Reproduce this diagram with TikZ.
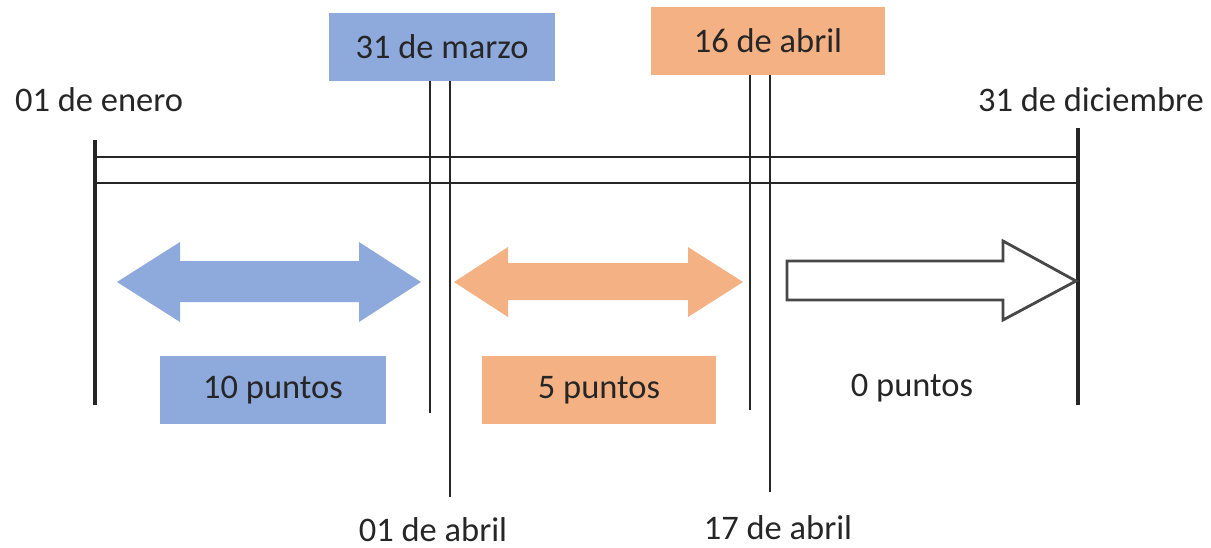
\documentclass[tikz,border=0pt]{standalone}
\usepackage{fontspec}
\setmainfont{Carlito}
\definecolor{azul}{HTML}{8EA9DB}
\definecolor{naranja}{HTML}{F4B183}
\definecolor{tinta}{HTML}{262626}

\begin{document}
\begin{tikzpicture}[x=0.01cm,y=-0.01cm,
		every node/.style={font=\fontsize{9.8}{12}\selectfont, text=tinta},
		caja/.style={inner sep=0pt, minimum height=0.67cm},
		hito/.style={line width=1.2pt, draw=tinta},
		linea/.style={line width=0.6pt, draw=tinta}]
				\useasboundingbox (0,0) rectangle (1211,548);
				% Dates at the top
				\node[caja, fill=azul, minimum width=2.25cm] (marzo) at (442,47) {31 de marzo};
				\node[caja, fill=naranja, minimum width=2.33cm] (abril) at (768,41) {16 de abril};
				\node (enero) at (99,100) {01 de enero};
				\node (diciembre) at (1091,100) {31 de diciembre};
				
				% Start and end of the year
				\coordinate (ini-top) at (95,140);
				\coordinate (ini-bot) at (95,405);
				\coordinate (fin-top) at (1078,128);
				\coordinate (fin-bot) at (1078,405);
				\draw[hito] (ini-top) -- (ini-bot);
				\draw[hito] (fin-top) -- (fin-bot);
				\draw[linea] (ini-bot |- 0,157) -- (fin-bot |- 0,157);
				\draw[linea] (ini-bot |- 0,183) -- (fin-bot |- 0,183);
				
				% Deadlines
				\coordinate (31mar) at (430,413);
				\coordinate (01abr) at (450,497);
				\coordinate (16abr) at (750,410);
				\coordinate (17abr) at (770,492);
				\draw[linea] (marzo.south -| 31mar) -- (31mar);
				\draw[linea] (marzo.south -| 01abr) -- (01abr);
				\draw[linea] (abril.south -| 16abr) -- (16abr);
				\draw[linea] (abril.south -| 17abr) -- (17abr);
				\node (abril1) at (433,530) {01 de abril};
				\node (abril17) at (778,528) {17 de abril};
				
				% Arrows for each period
				\fill[azul] (117,282) -- (180,242) -- (180,261) -- (359,261) -- (359,242) -- (421,282)
					-- (359,322) -- (359,302) -- (180,302) -- (180,322) -- cycle;
				\fill[naranja] (454,282) -- (508,247) -- (508,263) -- (688,263) -- (688,247) -- (743,282)
					-- (688,317) -- (688,300) -- (508,300) -- (508,317) -- cycle;
				\draw[line width=0.8pt, draw=tinta!85, fill=white] (787,261) -- (1003,261) -- (1003,241)
					-- (1076,281) -- (1003,320) -- (1003,300) -- (787,300) -- cycle;
				
				% Points
				\node[caja, fill=azul, minimum width=2.26cm] (p10) at (273,390) {10 puntos};
				\node[caja, fill=naranja, minimum width=2.33cm] (p5) at (599,390) {5 puntos};
				\node (p0) at (912,388) {0 puntos};
			\end{tikzpicture}
\end{document}
